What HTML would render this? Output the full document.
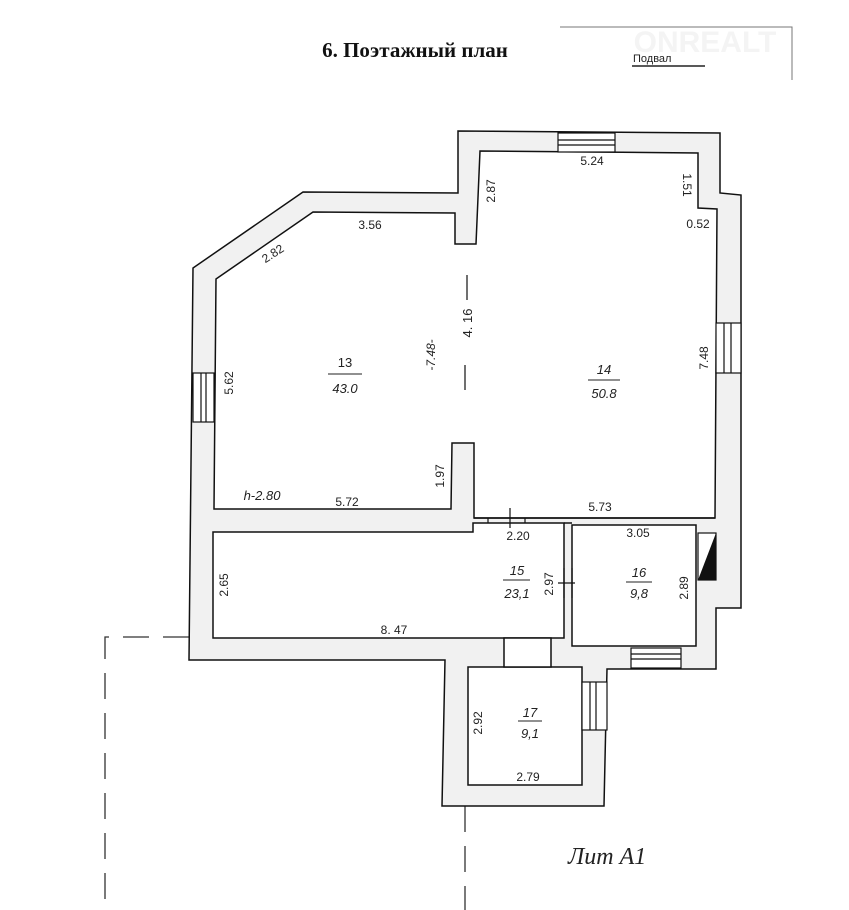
<!DOCTYPE html>
<html><head><meta charset="utf-8"><style>
html,body{margin:0;padding:0;background:#fff;}
svg{display:block}
text{font-family:"Liberation Sans",sans-serif;fill:#222}
</style></head><body>
<svg width="849" height="910" viewBox="0 0 849 910" xmlns="http://www.w3.org/2000/svg">
<rect width="849" height="910" fill="#fff"/>
<text x="415" y="57" text-anchor="middle" style="font-family:'Liberation Serif',serif;font-weight:bold;font-size:21px;fill:#111">6. Поэтажный план</text>
<polyline points="560,27 792,27 792,80" fill="none" stroke="#777" stroke-width="1"/>
<text x="705" y="52" text-anchor="middle" style="font-size:30px;font-weight:bold;fill:#f4f4f4">ONREALT</text>
<text x="633" y="62" style="font-size:11px;fill:#222">Подвал</text>
<line x1="632" y1="66" x2="705" y2="66" stroke="#222" stroke-width="1.5"/>

<g stroke="#333" stroke-width="1.3" fill="none" stroke-dasharray="26,14">
<polyline points="189,637 105,637 105,910"/>
<line x1="465" y1="806" x2="465" y2="910"/>
</g>

<g stroke="#111" stroke-width="1.5" stroke-linejoin="miter">
<polygon fill="#f1f1f1" points="458,131 720,133 720,193 741,195 741,608 716,608 716,669 607,669 604,806 442,806 445,660 189,660 193,268 303,192 458,193"/>
<polygon fill="#fff" points="216,279 313,212 455,213 455,244 476,244 480,151 698,153 698,208 717,209 715,518 474,518 474,443 452,443 451,509 214,509"/>
<polygon fill="#fff" points="213,532 473,532 473,523 564,523 564,638 213,638"/>
<polygon fill="#fff" points="572,525 696,525 696,646 572,646"/>
<polygon fill="#fff" points="468,667 582,667 582,785 468,785"/>
<rect x="504" y="638" width="47" height="29" fill="#fff"/>
<line x1="564" y1="523" x2="572" y2="523"/>
<line x1="474" y1="518" x2="715" y2="518"/>
<line x1="474" y1="523" x2="572" y2="523" stroke-width="1"/>
</g>
<g stroke="#111" stroke-width="1.2" fill="#fff">
<rect x="558" y="133" width="57" height="19"/>
<line x1="558" y1="140" x2="615" y2="140"/><line x1="558" y1="145" x2="615" y2="145"/>
<rect x="716" y="323" width="25" height="50"/>
<line x1="724" y1="323" x2="724" y2="373"/><line x1="731" y1="323" x2="731" y2="373"/>
<rect x="193" y="373" width="21" height="49"/>
<line x1="201" y1="373" x2="201" y2="422"/><line x1="206" y1="373" x2="206" y2="422"/>
<rect x="631" y="648" width="50" height="20"/>
<line x1="631" y1="654" x2="681" y2="654"/><line x1="631" y1="659" x2="681" y2="659"/>
<rect x="582" y="682" width="25" height="48"/>
<line x1="590" y1="682" x2="590" y2="730"/><line x1="596" y1="682" x2="596" y2="730"/>
<line x1="488" y1="518" x2="488" y2="523"/><line x1="525" y1="518" x2="525" y2="523"/>
<line x1="510" y1="508" x2="510" y2="528"/>
<line x1="564" y1="568" x2="564" y2="598"/><line x1="572" y1="568" x2="572" y2="598"/>
<line x1="558" y1="583" x2="575" y2="583"/>
</g>
<rect x="698" y="533" width="18" height="47" fill="#fff" stroke="#111" stroke-width="1.2"/>
<polygon points="698,580 716,533 716,580" fill="#111"/>
<line x1="467" y1="275" x2="467" y2="300" stroke="#222" stroke-width="1.3"/>
<line x1="465" y1="365" x2="465" y2="390" stroke="#222" stroke-width="1.3"/>

<g style="font-size:12px">
<text x="592" y="165" text-anchor="middle">5.24</text>
<text x="370" y="229" text-anchor="middle">3.56</text>
<text transform="translate(275,257) rotate(-33)" text-anchor="middle">2.82</text>
<text transform="translate(495,191) rotate(-90)" text-anchor="middle">2.87</text>
<text transform="translate(683,185) rotate(90)" text-anchor="middle">1.51</text>
<text x="698" y="228" text-anchor="middle">0.52</text>
<text transform="translate(233,383) rotate(-90)" text-anchor="middle">5.62</text>
<text transform="translate(708,358) rotate(-90)" text-anchor="middle">7.48</text>
<text transform="translate(472,323) rotate(-90)" text-anchor="middle" style="font-size:13px">4. 16</text>
<text transform="translate(435,355) rotate(-90)" text-anchor="middle" style="font-size:12px;font-style:italic">-7.48-</text>
<text x="345" y="367" text-anchor="middle" style="font-size:13px">13</text>
<line x1="328" y1="374" x2="362" y2="374" stroke="#222"/>
<text x="345" y="393" text-anchor="middle" style="font-size:13px;font-style:italic">43.0</text>
<text x="604" y="374" text-anchor="middle" style="font-size:13px;font-style:italic">14</text>
<line x1="588" y1="380" x2="620" y2="380" stroke="#222"/>
<text x="604" y="398" text-anchor="middle" style="font-size:13px;font-style:italic">50.8</text>
<text transform="translate(444,476) rotate(-90)" text-anchor="middle">1.97</text>
<text x="262" y="500" text-anchor="middle" style="font-size:13px;font-style:italic">h-2.80</text>
<text x="347" y="506" text-anchor="middle">5.72</text>
<text x="600" y="511" text-anchor="middle">5.73</text>
<text x="518" y="540" text-anchor="middle">2.20</text>
<text x="638" y="537" text-anchor="middle">3.05</text>
<text transform="translate(228,585) rotate(-90)" text-anchor="middle">2.65</text>
<text transform="translate(553,584) rotate(-90)" text-anchor="middle">2.97</text>
<text transform="translate(688,588) rotate(-90)" text-anchor="middle">2.89</text>
<text x="517" y="575" text-anchor="middle" style="font-size:13px;font-style:italic">15</text>
<line x1="503" y1="580" x2="530" y2="580" stroke="#222"/>
<text x="517" y="598" text-anchor="middle" style="font-size:13px;font-style:italic">23,1</text>
<text x="639" y="577" text-anchor="middle" style="font-size:13px;font-style:italic">16</text>
<line x1="626" y1="582" x2="652" y2="582" stroke="#222"/>
<text x="639" y="598" text-anchor="middle" style="font-size:13px;font-style:italic">9,8</text>
<text x="394" y="634" text-anchor="middle">8. 47</text>
<text transform="translate(482,723) rotate(-90)" text-anchor="middle">2.92</text>
<text x="530" y="717" text-anchor="middle" style="font-size:13px;font-style:italic">17</text>
<line x1="518" y1="721" x2="542" y2="721" stroke="#222"/>
<text x="530" y="738" text-anchor="middle" style="font-size:13px;font-style:italic">9,1</text>
<text x="528" y="781" text-anchor="middle">2.79</text>
</g>
<text x="568" y="864" style="font-family:'Liberation Serif',serif;font-style:italic;font-size:24px;fill:#222">Лит  А1</text>
</svg>
</body></html>
